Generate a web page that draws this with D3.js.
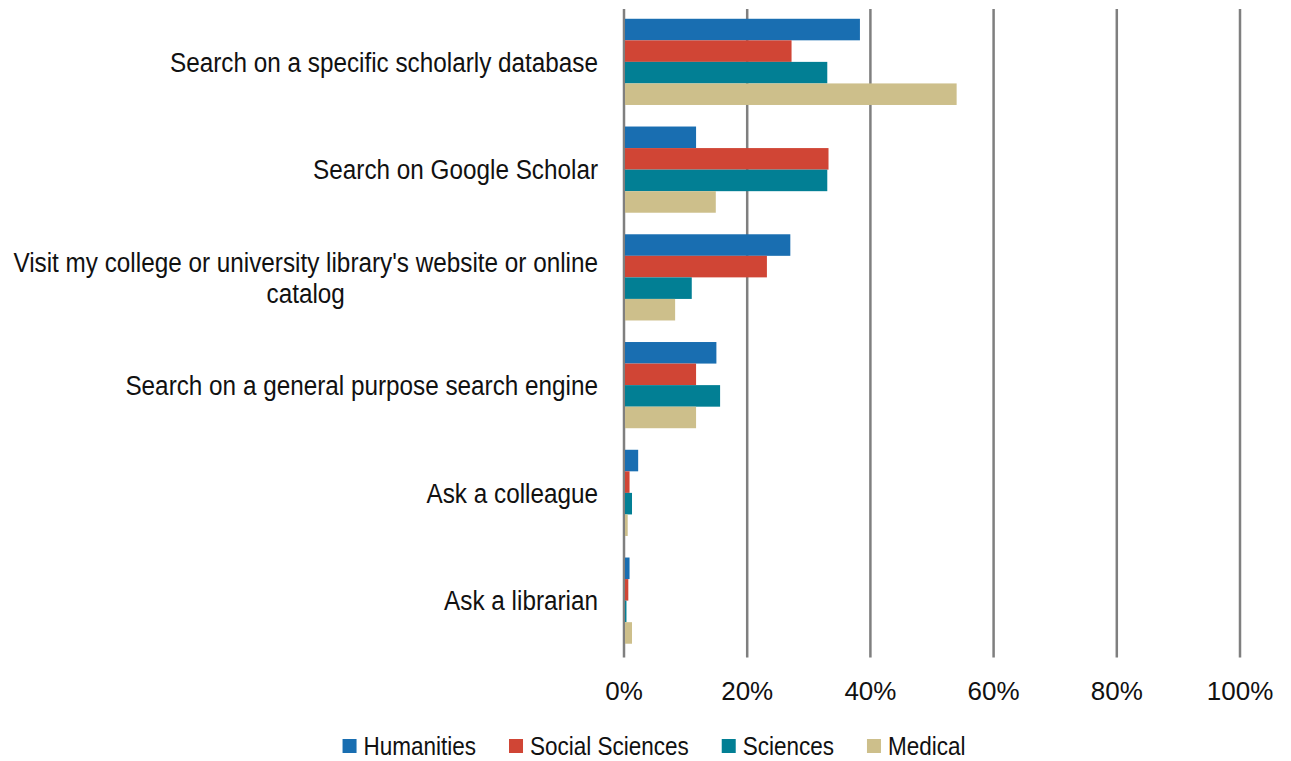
<!DOCTYPE html>
<html>
<head>
  <title>Where researchers start their search</title>
  <script src="https://d3js.org/d3.v7.min.js"></script>
  <style>
    body { margin: 0; background: #fff; }
    svg text { font-family: "Liberation Sans", Arial, sans-serif; fill: #111; }
    .grid line { stroke: #7f7f7f; stroke-width: 2.5; }
    .tick-label { font-size: 26px; text-anchor: middle; }
    .cat-label { font-size: 27px; }
    .legend-label { font-size: 25px; }
  </style>
</head>
<body>
  <div id="chart"></div>
  <script>
    // Data (share of respondents)
    const categories = [
      "Search on a specific scholarly database",
      "Search on Google Scholar",
      "Visit my college or university library's website or online catalog",
      "Search on a general purpose search engine",
      "Ask a colleague",
      "Ask a librarian"
    ];
    const seriesNames = ["Humanities", "Social Sciences", "Sciences", "Medical"];
    const humanities     = [0.383, 0.117, 0.270, 0.150, 0.023, 0.009];
    const socialSciences = [0.272, 0.332, 0.232, 0.117, 0.009, 0.007];
    const sciences       = [0.330, 0.330, 0.110, 0.156, 0.013, 0.004];
    const medical        = [0.540, 0.149, 0.083, 0.117, 0.006, 0.013];
    const xTicks = [0, 0.2, 0.4, 0.6, 0.8, 1.0];
    const colors = ["#196eb1", "#d04535", "#027f94", "#cdbf8b"];

    const seriesValues = [humanities, socialSciences, sciences, medical];
    const rows = categories.map((c, i) => ({
      category: c,
      values: seriesNames.map((s, j) => ({ series: s, value: seriesValues[j][i] }))
    }));

    const width = 1291, height = 761;
    const plotLeft = 624, plotRight = 1240, plotTop = 8, plotBottom = 654.5;
    const squeeze = 0.9;

    const svg = d3.select("#chart").append("svg")
      .attr("width", width)
      .attr("height", height);

    const x = d3.scaleLinear().domain([0, 1]).range([plotLeft, plotRight]);
    const y = d3.scaleBand().domain(categories).range([plotTop, plotBottom])
      .paddingInner(0.2).paddingOuter(0.1);
    const ySub = d3.scaleBand().domain(seriesNames).range([0, y.bandwidth()]);
    const color = d3.scaleOrdinal().domain(seriesNames).range(colors);

    // vertical gridlines
    svg.append("g").attr("class", "grid")
      .selectAll("line")
      .data(xTicks)
      .join("line")
        .attr("x1", d => x(d)).attr("x2", d => x(d))
        .attr("y1", plotTop + 1).attr("y2", plotBottom + 3);

    // tick labels
    svg.append("g")
      .selectAll("text")
      .data(xTicks)
      .join("text")
        .attr("class", "tick-label")
        .attr("x", d => x(d))
        .attr("y", 700)
        .text(d3.format(".0%"));

    // bars
    svg.append("g")
      .selectAll("g")
      .data(rows)
      .join("g")
        .attr("transform", d => `translate(0,${y(d.category)})`)
      .selectAll("rect")
      .data(d => d.values)
      .join("rect")
        .attr("x", x(0) + 1)
        .attr("y", d => ySub(d.series))
        .attr("width", d => x(d.value) - x(0) - 1)
        .attr("height", ySub.bandwidth())
        .attr("fill", d => color(d.series));

    // category labels, wrapped and right aligned as a block
    const maxLabelWidth = 600;
    const labels = svg.append("g")
      .selectAll("g")
      .data(categories)
      .join("g")
        .attr("transform", d => `translate(598,${y(d) + y.bandwidth() / 2}) scale(${squeeze},1)`);

    labels.each(function(d) {
      const g = d3.select(this);
      const probe = g.append("text").attr("class", "cat-label");
      const words = d.split(" ");
      const lines = [];
      let line = [];
      words.forEach(w => {
        const test = line.concat(w).join(" ");
        probe.text(test);
        if (line.length && probe.node().getComputedTextLength() * squeeze > maxLabelWidth) {
          lines.push(line.join(" "));
          line = [w];
        } else {
          line.push(w);
        }
      });
      lines.push(line.join(" "));
      const widths = lines.map(l => { probe.text(l); return probe.node().getComputedTextLength(); });
      probe.remove();
      const maxW = d3.max(widths);
      const lh = 31;
      const y0 = -(lines.length - 1) * lh / 2;
      lines.forEach((l, i) => {
        g.append("text")
          .attr("class", "cat-label")
          .attr("x", lines.length > 1 ? -maxW / 2 : 0)
          .attr("y", y0 + i * lh)
          .attr("dy", "0.36em")
          .attr("text-anchor", lines.length > 1 ? "middle" : "end")
          .text(l);
      });
    });

    // legend
    const legend = svg.append("g");
    const items = legend.selectAll("g")
      .data(seriesNames)
      .join("g");
    items.append("rect")
      .attr("width", 14).attr("height", 14)
      .attr("y", -7)
      .attr("fill", d => color(d));
    items.append("text")
      .attr("class", "legend-label")
      .attr("transform", `translate(21,0) scale(${squeeze},1)`)
      .attr("dy", "0.36em")
      .text(d => d);
    let cursor = 0;
    items.each(function() {
      const w = d3.select(this).select("text").node().getComputedTextLength() * squeeze;
      d3.select(this).attr("transform", `translate(${cursor},0)`);
      cursor += 21 + w + 33;
    });
    const legendWidth = cursor - 33;
    legend.attr("transform", `translate(${654 - legendWidth / 2},746)`);
  </script>
</body>
</html>
